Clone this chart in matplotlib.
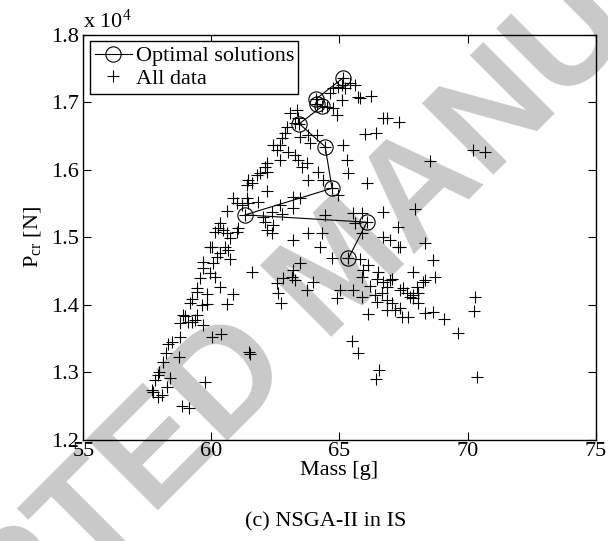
import numpy as np
import matplotlib
matplotlib.use("Agg")
import matplotlib.pyplot as plt
from matplotlib.ticker import FuncFormatter
from matplotlib.lines import Line2D

plt.rcParams['font.family'] = ['Liberation Serif', 'DejaVu Serif']
plt.rcParams['mathtext.fontset'] = 'custom'
plt.rcParams['mathtext.rm'] = 'Liberation Serif'
plt.rcParams['mathtext.it'] = 'Liberation Serif:italic'

# --- Pareto-optimal solutions (mass [g], critical load [N]) ---
opt_mass = [65.15, 64.10, 64.11, 64.33, 63.43, 64.44, 64.71, 61.31, 66.07, 65.35]
opt_pcr = [17363, 17051, 16977, 16940, 16680, 16341, 15725, 15330, 15222, 14688]

# --- all evaluated designs ---
all_mass = [
    # lower-left arm
    59.43, 59.82, 60.86, 59.23, 59.16, 59.62, 59.82, 60.60, 58.90, 58.97,
    59.43, 59.36, 59.23, 58.77, 59.10, 59.66, 58.77, 60.01, 60.36, 58.45,
    58.32, 61.48, 61.51, 58.23, 58.75, 58.12, 57.96, 57.93, 58.38, 57.80,
    59.75, 58.25, 57.67, 57.73, 58.06, 57.93, 58.84, 59.14,
    # middle-left arm
    61.90, 62.16, 61.77, 61.44, 61.38, 61.57, 62.16, 60.86, 61.38, 61.44,
    60.99, 61.18, 61.83, 60.60, 63.20, 63.46, 62.68, 63.20, 62.36, 62.75,
    62.03, 62.09, 62.42, 62.16, 62.36, 63.79, 63.20, 60.34, 60.27, 60.46,
    60.60, 61.05, 60.99, 60.14, 60.73, 60.01, 59.95, 60.53, 60.66, 60.34,
    60.21, 60.73, 59.68, 60.07, 59.68, 59.95, 60.14, 59.55, 61.57, 63.46,
    60.34, 59.43, 62.55, 62.81, 63.14, 63.20, 63.27, 62.61, 63.72,
    # upper arm
    65.41, 65.61, 65.09, 64.96, 65.22, 64.76, 64.63, 65.09, 65.74, 64.76,
    64.89, 64.50, 63.07, 63.36, 63.39, 63.27, 62.94, 62.88, 63.46, 63.79,
    64.11, 63.85, 62.75, 62.68, 62.42, 62.55, 63.00, 63.27, 62.68, 63.39,
    63.72, 63.53, 65.15, 65.29, 65.35, 64.18, 63.79, 64.37, 62.16, 62.09,
    # upper right
    65.80, 66.22, 66.71, 66.85, 67.34, 66.00, 66.43, 68.54, 70.23, 70.69,
    66.07,
    # middle right
    64.96, 64.44, 65.54, 65.87, 65.61, 66.71, 67.95, 67.30, 64.31, 65.87,
    66.71, 66.98, 67.30, 67.37, 68.34, 64.24, 64.70, 65.82, 66.13, 65.93,
    68.67, 66.52, 67.89, 66.46, 68.73, 68.34, 67.04, 65.87, 66.20, 65.02,
    65.54, 64.89, 63.98, 66.71, 66.98, 66.85, 66.65, 67.37, 67.50, 67.63,
    67.76, 68.02, 68.08, 67.89, 66.46, 66.85, 66.39, 65.87,
    # lower right
    67.89, 68.08, 68.28, 67.04, 66.85, 67.37, 67.17, 67.43, 67.69, 68.34,
    68.64, 69.09, 69.61, 70.30, 70.27, 70.39, 65.48, 65.74, 66.56, 66.43,
    62.71, 66.13,
]
all_pcr = [
    14194, 14160, 14160, 14081, 14022, 13997, 14012, 14012, 13849, 13834,
    13849, 13775, 13750, 13726, 13750, 13701, 13527, 13527, 13567, 13453,
    13419, 13305, 13271, 13281, 13231, 13157, 13009, 12960, 12911, 12886,
    12861, 12778, 12738, 12713, 12664, 12639, 12501, 12467,
    15947, 15971, 15922, 15848, 15774, 15799, 15690, 15577, 15577, 15503,
    15503, 15478, 15527, 15393, 15601, 15577, 15478, 15429, 15379, 15345,
    15305, 15231, 15182, 15108, 15059, 15059, 14960, 15207, 15133, 15108,
    15059, 15133, 15083, 15083, 14985, 14860, 14851, 14860, 14811, 14762,
    14703, 14674, 14638, 14614, 14540, 14466, 14416, 14392, 14490, 14614,
    14268, 14244, 14318, 14392, 14416, 14515, 14367, 14170, 14219,
    17280, 17255, 17255, 17230, 17206, 17206, 17132, 17033, 17082, 16910,
    16811, 16934, 16836, 16885, 16762, 16688, 16637, 16540, 16489, 16515,
    16515, 16392, 16466, 16367, 16367, 16293, 16267, 16219, 16144, 16144,
    16095, 16045, 16367, 16144, 15947, 15971, 15848, 15848, 16095, 16045,
    17067, 17097, 16762, 16762, 16712, 16525, 16540, 16130, 16292, 16267,
    15799,
    15626, 15330, 15355, 15355, 15207, 15379, 15414, 15157, 15068, 15059,
    15000, 14960, 14860, 14860, 14911, 14860, 14688, 14674, 14589, 14515,
    14663, 14490, 14490, 14378, 14416, 14367, 14378, 14416, 14278, 14219,
    14219, 14096, 14342, 14342, 14367, 14268, 14170, 14219, 14244, 14170,
    14120, 14268, 14170, 14096, 14046, 14071, 14145, 14120,
    14145, 14022, 14342, 14022, 13923, 13948, 13923, 13815, 13815, 13883,
    13889, 13790, 13587, 14120, 13908, 12926, 13464, 13290, 13034, 12896,
    14031, 13864,
]

x_ticks = [55, 60, 65, 70, 75]
y_ticks = [12000, 13000, 14000, 15000, 16000, 17000, 18000]

fig = plt.figure(figsize=(6.08, 5.41), dpi=100)
fig.patch.set_facecolor("white")

# watermark behind everything
fig.text(0.567, 0.501, "ACCEPTED MANUSCRIPT", rotation=45, ha="center", va="center",
         rotation_mode="anchor", fontsize=106, fontweight="bold", color="#c9c9c9",
         family="Liberation Sans", zorder=0)

ax = fig.add_axes([0.1372, 0.1873, 0.8423, 0.7486])
ax.set_facecolor("none")
ax.set_zorder(2)

ax.plot(all_mass + opt_mass, all_pcr + opt_pcr, linestyle="none", marker="+",
        color="black", markersize=8, markeredgewidth=0.8, zorder=3)
ax.plot(opt_mass, opt_pcr, "-", color="black", linewidth=0.8, marker="o",
        markersize=11, markerfacecolor="none", markeredgewidth=0.8, zorder=4)

ax.set_xlim(55, 75)
ax.set_ylim(12000, 18000)
ax.set_xticks(x_ticks)
ax.set_yticks(y_ticks)
ax.yaxis.set_major_formatter(FuncFormatter(lambda v, p: f"{v/1e4:.1f}"))
ax.tick_params(direction="in", top=True, right=True, length=6, width=0.8,
               labelsize=16)
ax.tick_params(axis="x", pad=2)
ax.tick_params(axis="y", pad=3)
for s in ax.spines.values():
    s.set_linewidth(1.0)

ax.text(0.0, 1.005, r"x 10$^4$", transform=ax.transAxes, ha="left", va="bottom",
        fontsize=16)

ax.set_xlabel("Mass [g]", fontsize=16, labelpad=0)
ax.set_ylabel(r"P$_{\rm cr}$ [N]", fontsize=16, labelpad=6)

handles = [
    Line2D([], [], color="black", linewidth=0.8, marker="o", markersize=11,
           markerfacecolor="none", markeredgewidth=0.8),
    Line2D([], [], color="black", linestyle="none", marker="+", markersize=8,
           markeredgewidth=0.8),
]
leg = ax.legend(handles, ["Optimal solutions", "All data"], loc="upper left",
                fontsize=16, fancybox=False, framealpha=1, edgecolor="black",
                borderaxespad=0.3, handlelength=1.7, handletextpad=0.15,
                labelspacing=0.1, borderpad=0.2)
leg.get_frame().set_linewidth(1.0)

fig.text(0.535, 0.035, "(c) NSGA-II in IS", ha="center", va="center", fontsize=16,
         zorder=3)

fig.savefig("out.png", dpi=100, facecolor="white")
